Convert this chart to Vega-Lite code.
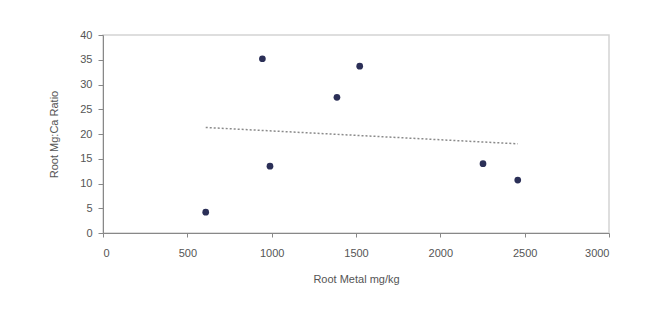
{
  "$schema": "https://vega.github.io/schema/vega-lite/v6.json",
  "autosize": {"type": "none"},
  "width": 506,
  "height": 198,
  "padding": {"left": 103, "top": 35, "right": 40, "bottom": 85},
  "background": "white",
  "config": {
    "font": "Liberation Sans",
    "view": {"stroke": "#d4d4d4", "strokeWidth": 1.5},
    "axis": {
      "labelFont": "Liberation Sans",
      "titleFont": "Liberation Sans",
      "labelFontSize": 11,
      "titleFontSize": 11,
      "titleFontWeight": "normal",
      "labelColor": "#555",
      "titleColor": "#555",
      "domainColor": "#888",
      "tickColor": "#888",
      "grid": false
    }
  },
  "data": {
    "values": [
      {"metal": 609, "ratio": 4.2},
      {"metal": 945, "ratio": 35.2},
      {"metal": 990, "ratio": 13.5},
      {"metal": 1387, "ratio": 27.4},
      {"metal": 1522, "ratio": 33.7},
      {"metal": 2253, "ratio": 14.0},
      {"metal": 2459, "ratio": 10.7}
    ]
  },
  "encoding": {
    "x": {
      "field": "metal",
      "type": "quantitative",
      "title": "Root Metal mg/kg",
      "scale": {"domain": [0, 3000], "nice": false},
      "axis": {"values": [0, 500, 1000, 1500, 2000, 2500, 3000], "format": "d", "labelOverlap": false, "tickSize": 4, "labelPadding": 10, "titlePadding": 15}
    },
    "y": {
      "field": "ratio",
      "type": "quantitative",
      "title": "Root Mg:Ca Ratio",
      "scale": {"domain": [0, 40], "nice": false},
      "axis": {"values": [0, 5, 10, 15, 20, 25, 30, 35, 40], "format": "d", "labelOverlap": false, "tickSize": 5, "labelPadding": 6, "titlePadding": 20}
    }
  },
  "layer": [
    {
      "transform": [{"regression": "ratio", "on": "metal"}],
      "mark": {"type": "line", "color": "#8a8a8a", "strokeWidth": 1.5, "strokeDash": [2, 2]}
    },
    {
      "mark": {"type": "circle", "size": 45, "opacity": 1, "color": "#2b2f57"}
    }
  ]
}
